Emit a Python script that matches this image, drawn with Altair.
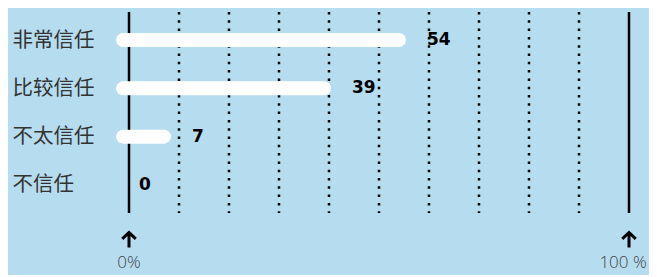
import altair as alt
import pandas as pd

categories = ["非常信任", "比较信任", "不太信任", "不信任"]
values = [54, 39, 7, 0]
grid_values = [10, 20, 30, 40, 50, 60, 70, 80, 90]
edge_values = [0, 100]
edge_labels = ["0%", "100 %"]

df = pd.DataFrame({"cat": categories, "value": values})
grid = pd.DataFrame({"g": grid_values})
edges = pd.DataFrame({"g": edge_values, "lab": edge_labels})

W, H = 500, 201
xs = alt.Scale(domain=[0, 100])
ys = alt.Scale(domain=categories, type="point", padding=0.58)

gridlines = alt.Chart(grid).mark_rule(
    color="black", strokeWidth=2.5, strokeDash=[2.5, 5.8]
).encode(x=alt.X("g:Q", scale=xs, axis=None), y=alt.value(0), y2=alt.value(H))

edgelines = alt.Chart(edges).mark_rule(color="black", strokeWidth=2.5).encode(
    x=alt.X("g:Q", scale=xs, axis=None), y=alt.value(0), y2=alt.value(H)
)

bars = alt.Chart(df).transform_filter("datum.value > 0").transform_calculate(
    z="-1.2"
).mark_rule(
    color="white", strokeWidth=14, strokeCap="round"
).encode(
    x=alt.X("z:Q", scale=xs, axis=None),
    x2="value:Q",
    y=alt.Y("cat:N", scale=ys,
            axis=alt.Axis(title=None, domain=False, ticks=False, labelAlign="left",
                          labelPadding=117, labelFont="Noto Sans CJK SC",
                          labelFontSize=20.5, labelColor="#333333")),
)

labels = alt.Chart(df).transform_calculate(
    lx="datum.value > 0 ? datum.value + 5.6 : datum.value + 2"
).mark_text(
    align="left", baseline="middle", font="DejaVu Sans", fontWeight="bold",
    fontSize=17, color="black"
).encode(
    x=alt.X("lx:Q", scale=xs, axis=None),
    y=alt.Y("cat:N", scale=ys),
    text="value:Q",
)

arrows = alt.Chart(edges).mark_point(
    shape="M -0.9 -0.15 L 0 -1 L 0.9 -0.15 M 0 -1 L 0 1",
    filled=False, color="black", strokeWidth=3, size=225, opacity=1
).encode(x=alt.X("g:Q", scale=xs, axis=None), y=alt.value(228))

edge_text = alt.Chart(edges).transform_calculate(
    tx="datum.g >= 100 ? datum.g - 1.2 : datum.g"
).mark_text(
    font="Open Sans", fontWeight=300, fontSize=17, color="#444444", baseline="alphabetic"
).encode(x=alt.X("tx:Q", scale=xs, axis=None), y=alt.value(256), text="lab:N")

chart = alt.layer(gridlines, edgelines, bars, labels, arrows, edge_text).properties(
    width=W, height=H,
    autosize=alt.AutoSizeParams(type="none"),
    padding={"left": 121, "top": 4, "right": 20, "bottom": 62},
    background="#b6dcf0",
).configure_view(stroke=None)

chart.save("out.html", embed_options={"renderer": "svg", "actions": False})
